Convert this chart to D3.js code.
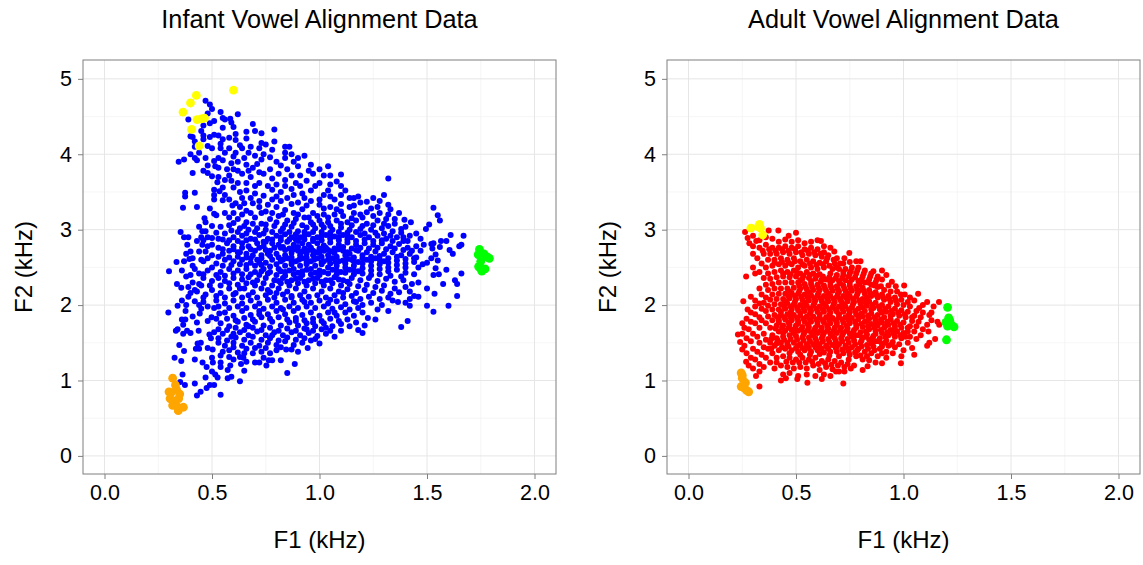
<!DOCTYPE html>
<html><head><meta charset="utf-8">
<script src="https://cdnjs.cloudflare.com/ajax/libs/d3/7.8.5/d3.min.js"></script>
<style>html,body{margin:0;padding:0;background:#fff}svg{display:block}text{font-family:"Liberation Sans",Arial,sans-serif}</style>
</head><body><svg id="c" width="1143" height="565"></svg>
<script>
const tickX=[0,0.5,1,1.5,2], tickY=[0,1,2,3,4,5];
const minorX=[0.25,0.75,1.25,1.75], minorY=[0.5,1.5,2.5,3.5,4.5];
const infantYellow=[[.60,4.85],[.427,4.78],[.40,4.68],[.365,4.56],[.43,4.46],[.45,4.47],[.465,4.48],[.405,4.33],[.44,4.11]];
const infantOrange=[[.317,1.03],[.33,.94],[.335,.88],[.30,.85],[.35,.82],[.305,.76],[.345,.76],[.325,.73],[.317,.67],[.34,.65],[.367,.645],[.343,.60],[.31,.84]];
const infantGreen=[[1.744,2.74],[1.738,2.67],[1.765,2.68],[1.78,2.64],[1.79,2.62],[1.75,2.58],[1.748,2.49],[1.755,2.45],[1.77,2.48],[1.74,2.51]];
const infantVowels=[
[.47,4.71],[.49,4.66],[.50,4.60],[.48,4.54],[.54,4.56],[.62,4.53],[.39,4.46],[.55,4.48],[.56,4.46],[.585,4.47],[.59,4.42],[.51,4.44],[.49,4.41],[.46,4.38],[.69,4.40],[.55,4.35],[.60,4.36],[.61,4.27],[.66,4.30],[.70,4.31],[.73,4.28],[.79,4.33],[.45,4.31],[.46,4.25],[.49,4.23],[.51,4.26],[.53,4.25],[.46,4.20],[.40,4.24],[.41,4.23],[.58,4.22],[.61,4.19],[.66,4.21],[.42,4.17],[.54,4.14],[.54,4.08],[.58,4.08],[.48,4.11],[.50,4.08],[.42,4.10],[.73,4.15],[.75,4.13],[.72,4.08],[.79,4.17],[.78,4.06],[.84,4.10],[.86,4.10],[.64,4.08],[.61,4.02],[.60,3.97],[.67,4.02],[.74,4.00],[.73,3.93],[.84,4.02],[.84,3.95],[.40,4.00],[.42,3.95],[.43,3.92],[.37,3.93],[.345,3.90],[.41,3.75],[.44,4.02],[.51,3.91],[.48,3.85],[.46,3.78],[.53,3.95],[.55,3.92],[.515,3.84],[.53,3.82],[.48,3.75],[.50,3.71],[.525,3.63],
[.59,3.88],[.62,3.9],[.66,3.86],[.69,3.82],[.71,3.87],[.82,3.85],[.85,3.8],[.88,3.9],[.9,3.84],[.93,3.98],[.96,3.86],[1.0,3.8],[1.04,3.84],[1.02,3.72],[1.1,3.73],[.97,3.74],[.91,3.72],[.58,3.72],[.6,3.8],[.64,3.74],[.68,3.7],[.74,3.74],[.78,3.68],[.84,3.66],[.89,3.62],[.56,3.66],[.62,3.62],[.72,3.62],[.76,3.58],[.8,3.6],[.94,3.65],[1.0,3.62],[1.05,3.6],[1.08,3.64],[1.1,3.46],[1.14,3.42],[1.16,3.42],[1.12,3.52],[.6,3.56],[.66,3.52],[.7,3.48],[.64,3.42],[.74,3.45],[.82,3.5],[.87,3.54],[.92,3.48],[.96,3.52],[1.02,3.46],[1.07,3.4],[.78,3.4],[.85,3.42],[.9,3.36],[.96,3.38],[1.0,3.33],[1.05,3.3],[1.1,3.34],[1.14,3.3],[1.19,3.36],
[.375,3.49],[.375,3.44],[.42,3.49],[.365,3.29],[.43,3.30],[.49,3.28],[.51,3.53],[.51,3.46],[.51,3.40],[.535,3.51],[.56,3.46],[.55,3.39],[.595,3.32],[.465,3.15],[.51,3.21],[.52,3.19],[.56,3.22],[.354,2.97],[.37,2.90],[.39,2.90],[.44,3.04],[.455,2.98],[.45,2.90],[.52,2.96],[.54,3.04],[.59,2.99],[.385,2.80],[.40,2.71],[.455,2.80],[.335,2.57],[.37,2.58],[.395,2.61],[.44,2.71],[.47,2.71],[.50,2.89],[.55,2.87],
[.6,3.22],[.63,3.3],[.66,3.25],[.69,3.35],[.72,3.3],[.75,3.24],[.8,3.3],[.84,3.26],[.88,3.22],[.92,3.27],[.97,3.22],[1.02,3.2],[1.07,3.2],[1.11,3.18],[1.16,3.22],[1.2,3.16],[1.25,3.42],[1.28,3.38],[1.22,3.37],[1.3,3.46],[1.32,3.33],[1.33,3.27],[1.24,3.28],[1.28,3.22],[1.37,3.22],[1.395,3.13],[1.425,3.10],[1.32,3.68],[1.53,3.29],[1.55,3.19],[1.56,3.12],[1.51,3.07],[1.495,3.01],
[.62,3.14],[.66,3.1],[.7,3.16],[.73,3.08],[.77,3.14],[.81,3.18],[.85,3.12],[.89,3.14],[.93,3.16],[.96,3.1],[1.0,3.12],[1.04,3.1],[1.08,3.12],[1.13,3.1],[1.17,3.12],[1.22,3.08],[1.27,3.12],[1.31,3.14],[1.35,3.08],[1.4,3.04],[1.45,2.95],[.58,3.06],[.63,3.02],[.67,3.0],[.71,3.02],[.75,3.0],[.79,3.05],[.83,3.02],[.87,3.04],[.9,2.98],[.94,3.03],[.98,3.02],[1.02,3.03],[1.06,3.0],[1.1,3.03],[1.14,3.0],[1.19,3.01],[1.24,3.0],[1.29,3.02],[1.34,2.98],[1.38,2.96],[1.42,2.92],
[.48,2.9],[.57,2.82],[.6,2.9],[.64,2.92],[.68,2.88],[.72,2.93],[.76,2.88],[.8,2.92],[.84,2.94],[.87,2.9],[.91,2.9],[.95,2.94],[.99,2.9],[1.03,2.93],[1.07,2.91],[1.11,2.93],[1.15,2.9],[1.19,2.93],[1.23,2.9],[1.27,2.92],[1.31,2.88],[1.36,2.9],[1.41,2.85],[1.47,2.88],[1.485,2.80],[1.61,2.93],[1.67,2.92],[1.59,2.85],[1.565,2.85],[1.53,2.82],[1.52,2.81],[1.66,2.80],[1.65,2.78],[1.56,2.77],[1.525,2.75],[1.605,2.73],[1.62,2.68],[1.54,2.67],[1.52,2.62],[1.55,2.59],[1.50,2.56],[1.48,2.54],
[.5,2.8],[.53,2.76],[.6,2.78],[.64,2.82],[.67,2.78],[.71,2.82],[.74,2.78],[.78,2.82],[.81,2.8],[.85,2.84],[.88,2.8],[.92,2.82],[.95,2.8],[.99,2.82],[1.02,2.79],[1.05,2.83],[1.09,2.8],[1.13,2.83],[1.17,2.8],[1.21,2.82],[1.25,2.8],[1.29,2.82],[1.33,2.78],[1.37,2.81],[1.41,2.76],[1.45,2.78],[1.47,2.72],
[.5,2.66],[.55,2.68],[.58,2.72],[.62,2.7],[.66,2.68],[.7,2.72],[.73,2.66],[.77,2.72],[.8,2.68],[.84,2.73],[.87,2.69],[.9,2.72],[.94,2.68],[.97,2.72],[1.0,2.69],[1.04,2.73],[1.07,2.69],[1.11,2.72],[1.14,2.68],[1.18,2.72],[1.22,2.7],[1.26,2.71],[1.3,2.68],[1.34,2.7],[1.38,2.66],[1.42,2.68],[1.45,2.63],
[.46,2.58],[.52,2.55],[.56,2.6],[.6,2.58],[.64,2.6],[.68,2.56],[.71,2.6],[.75,2.56],[.78,2.6],[.82,2.58],[.85,2.62],[.89,2.58],[.92,2.62],[.96,2.58],[.99,2.62],[1.02,2.58],[1.06,2.62],[1.09,2.58],[1.13,2.61],[1.16,2.58],[1.2,2.62],[1.24,2.58],[1.28,2.6],[1.32,2.56],[1.36,2.59],[1.4,2.55],[1.44,2.57],[1.46,2.5],
[.3,2.45],[.36,2.46],[.38,2.38],[.42,2.48],[.44,2.42],[.48,2.46],[.54,2.44],[.58,2.48],[.62,2.46],[.66,2.48],[.7,2.44],[.74,2.48],[.77,2.44],[.81,2.48],[.84,2.44],[.88,2.48],[.92,2.45],[.96,2.48],[1.0,2.46],[1.04,2.5],[1.08,2.46],[1.12,2.5],[1.16,2.46],[1.2,2.49],[1.24,2.46],[1.28,2.48],[1.32,2.45],[1.36,2.47],[1.4,2.43],[1.44,2.41],[1.54,2.49],[1.59,2.47],[1.53,2.40],[1.555,2.41],[1.66,2.42],[1.63,2.33],[1.64,2.28],[1.575,2.28],[1.50,2.22],[1.535,2.15],[1.64,2.12],[1.50,1.99],[1.60,1.99],[1.53,1.91],[1.46,2.11],[1.44,2.12],[1.42,2.08],[1.42,1.99],[1.40,2.03],[1.365,2.04],[1.34,2.06],
[.337,2.28],[.357,2.23],[.39,2.11],[.34,1.99],[.36,2.06],[.41,2.3],[.44,2.28],[.46,2.36],[.5,2.32],[.53,2.36],[.56,2.32],[.6,2.36],[.64,2.34],[.67,2.37],[.71,2.33],[.75,2.36],[.79,2.33],[.83,2.36],[.87,2.33],[.91,2.36],[.95,2.33],[.99,2.36],[1.03,2.33],[1.07,2.37],[1.11,2.33],[1.15,2.36],[1.19,2.33],[1.23,2.36],[1.27,2.32],[1.31,2.35],[1.35,2.31],[1.39,2.33],[1.43,2.28],[1.46,2.3],
[.43,2.18],[.47,2.14],[.5,2.2],[.54,2.16],[.58,2.22],[.61,2.16],[.65,2.22],[.69,2.17],[.73,2.22],[.77,2.17],[.81,2.22],[.85,2.18],[.89,2.22],[.93,2.18],[.97,2.22],[1.01,2.18],[1.05,2.22],[1.09,2.18],[1.13,2.21],[1.17,2.16],[1.21,2.2],[1.25,2.16],[1.29,2.19],[1.33,2.15],[1.37,2.17],[1.42,2.18],
[.297,1.90],[.377,1.92],[.36,1.81],[.376,1.81],[.45,1.95],[.443,1.89],[.51,1.96],[.48,1.98],[.534,1.89],[.43,1.77],[.48,1.79],[.498,1.84],[.42,2.05],[.46,2.04],[.52,2.06],[.56,2.02],[.6,2.06],[.64,2.02],[.68,2.06],[.72,2.02],[.76,2.07],[.8,2.03],[.84,2.07],[.88,2.03],[.92,2.07],[.96,2.03],[1.0,2.06],[1.04,2.02],[1.08,2.05],[1.12,2.01],[1.16,2.05],[1.2,2.0],[1.24,2.03],[1.29,2.0],[1.32,1.92],[1.27,1.94],[1.26,1.81],[1.225,1.83],[1.20,1.63],[1.18,1.67],[1.21,1.73],[1.41,1.79],[1.38,1.71],
[.56,1.9],[.6,1.86],[.64,1.92],[.68,1.87],[.72,1.92],[.76,1.88],[.8,1.92],[.84,1.88],[.88,1.92],[.92,1.87],[.96,1.9],[1.0,1.86],[1.04,1.9],[1.08,1.86],[1.12,1.9],[1.16,1.86],[1.2,1.9],[.54,1.76],[.58,1.72],[.62,1.78],[.66,1.74],[.7,1.78],[.74,1.73],[.78,1.78],[.82,1.73],[.86,1.77],[.9,1.73],[.94,1.76],[.98,1.72],[1.02,1.76],[1.06,1.72],[1.1,1.75],[1.14,1.72],[1.17,1.77],
[.366,1.74],[.332,1.66],[.34,1.68],[.366,1.62],[.384,1.66],[.40,1.63],[.348,1.47],[.37,1.39],[.326,1.30],[.357,1.26],[.363,1.08],[.374,.94],[.352,.98],[.42,1.28],[.456,1.24],[.475,1.18],[.47,1.04],[.42,.96],[.43,.80],[.447,.85],[.475,.90],[.49,.94],[.51,.94],[.54,.81],[.50,1.12],[.515,1.08],[.526,1.04],[.573,1.03],[.59,1.05],[.63,.99],[.85,1.10],[.885,1.22],[.82,1.27],[.753,1.20],[.65,1.13],[.635,1.22],[.585,1.20],[.54,1.18],[.573,1.14],[.50,1.30],[.504,1.24],[.54,1.33],[.54,1.24],[.58,1.31],[.63,1.31],[.646,1.30],[.69,1.36],[.70,1.24],[.72,1.24],[.764,1.27],[.78,1.27],[.845,1.41],[.945,1.43],[.425,1.42],[.44,1.42],[.433,1.49],[.448,1.50],[.48,1.43],[.503,1.41],[.495,1.56],[.488,1.61],[.438,1.66],[.51,1.64],
[.55,1.62],[.59,1.58],[.63,1.64],[.67,1.6],[.71,1.65],[.75,1.6],[.79,1.64],[.83,1.6],[.87,1.64],[.91,1.6],[.95,1.63],[.99,1.59],[1.03,1.62],[1.07,1.58],[.53,1.5],[.56,1.46],[.6,1.5],[.64,1.46],[.68,1.5],[.72,1.46],[.76,1.5],[.8,1.47],[.84,1.52],[.88,1.47],[.92,1.5],[.96,1.53],[1.0,1.49],[.58,1.4],[.62,1.37],[.66,1.42],[.73,1.38],[.77,1.36],[.8,1.4],[.9,1.38]
];
const infantVowelsDense=[
[.55,4.2],[.63,4.12],[.68,4.1],[.7,3.98],[.77,3.96],[.8,3.9],[.87,4.0],[.9,3.95],[.47,3.95],[.56,4.02],[.65,3.95],[.57,3.8],[.62,3.78],[.67,3.78],[.72,3.76],[.77,3.8],[.81,3.74],[.87,3.72],[.95,3.78],[1.05,3.72],[.53,3.7],[.59,3.65],[.66,3.62],[.7,3.58],[.78,3.53],[.84,3.58],[.91,3.58],[.98,3.58],[1.04,3.52],[1.1,3.58],[.55,3.56],[.63,3.5],[.68,3.42],[.72,3.38],[.8,3.44],[.88,3.46],[.93,3.42],[1.0,3.4],[1.05,3.44],[1.18,3.44],[.58,3.4],[.61,3.35],[.65,3.35],[.76,3.33],[.82,3.38],[.87,3.34],[.94,3.32],[1.02,3.28],[1.08,3.27],[1.16,3.32],[1.22,3.23],[1.27,3.3],[1.32,3.2],[.58,3.16],[.64,3.2],[.68,3.22],[.73,3.22],[.78,3.22],[.83,3.2],[.9,3.2],[.95,3.16],[.99,3.18],[1.04,3.16],[1.1,3.24],[1.15,3.15],[1.19,3.2],[1.25,3.18],[1.3,3.08],[1.35,3.14],
[.6,3.09],[.65,3.05],[.69,3.08],[.75,3.07],[.8,3.1],[.84,3.07],[.88,3.09],[.92,3.06],[.97,3.07],[1.01,3.07],[1.05,3.05],[1.1,3.08],[1.15,3.06],[1.2,3.05],[1.25,3.06],[1.32,3.05],[1.38,3.01],
[.56,2.95],[.62,2.97],[.66,2.95],[.7,2.97],[.74,2.95],[.78,2.97],[.82,2.98],[.86,2.97],[.89,2.94],[.93,2.97],[.97,2.97],[1.01,2.97],[1.05,2.96],[1.09,2.97],[1.13,2.96],[1.17,2.97],[1.21,2.95],[1.26,2.96],[1.3,2.95],[1.33,2.92],[1.39,2.9],
[.46,2.86],[.53,2.88],[.58,2.86],[.62,2.85],[.66,2.86],[.7,2.87],[.74,2.84],[.78,2.87],[.82,2.86],[.86,2.87],[.9,2.85],[.93,2.87],[.97,2.85],[1.01,2.86],[1.05,2.88],[1.09,2.86],[1.13,2.87],[1.17,2.85],[1.21,2.87],[1.25,2.85],[1.29,2.86],[1.34,2.85],[1.39,2.85],
[.48,2.78],[.55,2.74],[.6,2.74],[.64,2.76],[.68,2.74],[.72,2.76],[.75,2.73],[.79,2.76],[.83,2.77],[.86,2.75],[.9,2.77],[.93,2.75],[.96,2.76],[1.0,2.75],[1.03,2.76],[1.07,2.75],[1.11,2.77],[1.15,2.75],[1.19,2.76],[1.23,2.75],[1.27,2.76],[1.31,2.74],[1.35,2.75],[1.39,2.73],[1.43,2.72],
[.48,2.62],[.53,2.64],[.58,2.63],[.62,2.64],[.66,2.63],[.69,2.66],[.73,2.62],[.77,2.65],[.81,2.63],[.84,2.66],[.87,2.63],[.91,2.66],[.94,2.63],[.97,2.66],[1.01,2.64],[1.04,2.66],[1.08,2.64],[1.12,2.66],[1.16,2.63],[1.2,2.66],[1.24,2.64],[1.28,2.65],[1.32,2.62],[1.36,2.64],[1.4,2.61],[1.44,2.62],
[.5,2.5],[.55,2.52],[.59,2.53],[.63,2.54],[.66,2.53],[.7,2.52],[.73,2.53],[.77,2.51],[.8,2.54],[.84,2.52],[.87,2.54],[.91,2.52],[.94,2.54],[.98,2.52],[1.01,2.54],[1.05,2.55],[1.08,2.52],[1.12,2.55],[1.16,2.52],[1.2,2.55],[1.24,2.52],[1.28,2.54],[1.32,2.5],[1.36,2.53],[1.4,2.5],
[.4,2.4],[.46,2.41],[.52,2.4],[.56,2.39],[.6,2.42],[.64,2.41],[.68,2.41],[.72,2.4],[.76,2.42],[.8,2.4],[.84,2.39],[.88,2.41],[.92,2.4],[.96,2.41],[1.0,2.4],[1.04,2.42],[1.08,2.41],[1.12,2.43],[1.16,2.41],[1.2,2.42],[1.24,2.4],[1.28,2.41],[1.33,2.39],[1.38,2.38],
[.39,2.24],[.45,2.26],[.49,2.26],[.54,2.26],[.58,2.29],[.62,2.27],[.66,2.29],[.7,2.26],[.74,2.29],[.78,2.26],[.82,2.29],[.86,2.26],[.9,2.29],[.94,2.26],[.98,2.29],[1.02,2.26],[1.06,2.29],[1.1,2.26],[1.14,2.28],[1.18,2.25],[1.22,2.27],[1.26,2.24],[1.3,2.26],[1.35,2.22],[1.4,2.24],
[.4,2.16],[.46,2.1],[.52,2.12],[.56,2.1],[.6,2.14],[.64,2.1],[.67,2.13],[.71,2.1],[.75,2.13],[.79,2.1],[.83,2.14],[.87,2.1],[.91,2.13],[.95,2.11],[.99,2.13],[1.03,2.1],[1.07,2.13],[1.11,2.1],[1.15,2.12],[1.19,2.08],[1.23,2.11],[1.28,2.08],[1.32,2.1],
[.38,2.0],[.44,2.0],[.53,1.98],[.58,1.96],[.62,1.98],[.66,1.96],[.7,1.98],[.74,1.95],[.78,1.98],[.82,1.96],[.86,1.98],[.9,1.96],[.94,1.98],[.98,1.96],[1.02,1.98],[1.06,1.95],[1.1,1.97],[1.14,1.94],[1.18,1.96],
[.41,1.85],[.52,1.82],[.57,1.82],[.61,1.8],[.65,1.83],[.69,1.81],[.73,1.84],[.77,1.82],[.81,1.84],[.85,1.81],[.89,1.83],[.93,1.8],[.97,1.82],[1.01,1.79],[1.05,1.82],[1.09,1.79],[1.13,1.81],
[.53,1.68],[.57,1.67],[.61,1.7],[.65,1.67],[.69,1.7],[.73,1.67],[.77,1.7],[.81,1.66],[.85,1.69],[.89,1.66],[.93,1.69],[.97,1.66],[1.01,1.68],[1.05,1.66],[1.1,1.66],
[.53,1.56],[.57,1.53],[.61,1.57],[.65,1.54],[.69,1.58],[.73,1.54],[.77,1.56],[.81,1.53],[.85,1.57],[.89,1.54],[.93,1.56],[.98,1.55],[.55,1.38],[.6,1.44],[.65,1.36],[.7,1.43],[.75,1.43],[.82,1.44],[.87,1.41],[.6,1.28],[.66,1.25],[.74,1.3],
[.41,2.52],[.45,2.6],[.41,2.62],[.38,2.68],[.43,2.85],[.47,2.98],[.5,3.05],[.47,3.1],[.42,2.2],
[.82,2.9],[.89,2.87],[.93,2.92],[.97,2.88],[1.01,2.92],[1.05,2.91],[1.09,2.9],[1.13,2.92],[.82,2.76],[.88,2.74],[.92,2.71],[.95,2.73],[.985,2.7],[1.02,2.72],[1.055,2.71],[1.09,2.74],[1.13,2.7],[1.17,2.73],[.83,2.6],[.87,2.58],[.905,2.6],[.94,2.57],[.975,2.6],[1.01,2.57],[1.04,2.6],[1.075,2.57],[1.11,2.59],[1.15,2.6],[1.18,2.57],[1.22,2.6],[1.26,2.62],[1.3,2.58],[.82,2.45],[.86,2.46],[.9,2.43],[.94,2.47],[.98,2.43],[1.02,2.44],[1.06,2.47],[1.1,2.44],[1.14,2.47],[1.18,2.45],[.81,2.32],[.85,2.31],[.89,2.35],[.93,2.31],[.97,2.35],[1.01,2.31],[1.05,2.33],[1.09,2.34],[1.13,2.31],[.63,2.7],[.68,2.62],[.72,2.56],[.76,2.68],[.75,2.84],[.73,2.45],[.69,2.3],[.63,2.22],[.76,2.2],[.8,2.16],[.87,2.12],[.93,2.04],[1.05,2.07],[1.11,2.16],[1.17,2.04],[1.07,1.9],[.83,1.94],[.72,1.88],[.89,1.79],[.97,1.77],[.67,1.72],[.78,1.6],[.6,1.62],[.94,1.68],[1.03,1.7]
];
const adultYellow=[[.29,3.02],[.33,3.07],[.335,3.02],[.345,2.93],[.325,3.04]];
const adultOrange=[[.245,1.10],[.25,1.03],[.265,.97],[.245,.92],[.28,.85],[.26,.90],[.25,1.07],[.27,.87]];
const adultGreen=[[1.205,1.97],[1.21,1.83],[1.215,1.80],[1.205,1.72],[1.235,1.71],[1.20,1.54],[1.22,1.75],[1.197,1.77]];
const adultVowels=[
[.263,2.97],[.418,2.99],[.373,2.99],[.466,2.92],[.50,2.96],[.275,2.89],[.283,2.82],[.60,2.86],[.616,2.85],[.678,2.71],[.748,2.69],[.725,2.62],[.78,2.58],[.80,2.58],[.86,2.45],[.90,2.46],[.92,2.40],[.946,2.31],[.964,2.25],[1.003,2.26],[.988,2.14],[1.006,2.14],[1.068,2.15],[1.11,2.04],[1.165,2.04],[1.073,1.96],[1.12,1.87],[1.158,1.78],[1.166,1.74],[1.11,1.74],[1.116,1.65],[1.147,1.55],[1.12,1.50],[1.11,1.46],[1.05,1.34],[.99,1.32],[.988,1.23],[.90,1.23],[.833,1.19],[.81,1.14],[.72,.96],[.725,1.12],[.686,1.12],[.62,1.02],[.553,.97],[.506,1.02],[.43,1.0],[.453,1.03],[.33,.92],[.33,1.12],[.314,1.06],[.268,1.25],[.255,2.05],[.268,2.38],[.29,2.11],[.23,1.61],[.24,1.51],[.25,1.41],[.25,1.76],[.275,1.94],
[.3,2.92],[.33,2.86],[.36,2.9],[.39,2.88],[.42,2.84],[.45,2.87],[.48,2.84],[.51,2.86],[.54,2.82],[.57,2.84],[.63,2.78],[.66,2.76],[.3,2.78],[.33,2.76],[.36,2.8],[.39,2.76],[.42,2.76],[.45,2.78],[.48,2.76],[.51,2.78],[.54,2.74],[.57,2.76],[.6,2.74],[.63,2.7],[.69,2.62],[.72,2.55],[.75,2.57],[.3,2.68],[.32,2.62],[.35,2.68],[.38,2.68],[.41,2.68],[.44,2.7],[.47,2.68],[.5,2.7],[.53,2.66],[.56,2.68],[.59,2.66],[.62,2.64],[.65,2.66],[.68,2.55],
[.3,2.5],[.31,2.42],[.34,2.55],[.37,2.6],[.4,2.6],[.43,2.62],[.46,2.6],[.49,2.62],[.52,2.58],[.55,2.6],[.58,2.58],[.61,2.56],[.64,2.58],[.67,2.48],[.7,2.48],[.73,2.48],[.76,2.5],[.79,2.5],[.82,2.46],[.85,2.42],[.88,2.38],[.36,2.5],[.39,2.52],[.42,2.54],[.45,2.52],[.48,2.54],[.51,2.5],[.54,2.52],[.57,2.5],[.6,2.48],[.63,2.5],[.66,2.42],[.69,2.4],[.72,2.4],[.75,2.42],[.78,2.42],[.81,2.38],[.84,2.34],[.87,2.3],[.9,2.34],[.93,2.26],
[.33,2.44],[.37,2.42],[.4,2.44],[.43,2.46],[.46,2.44],[.49,2.46],[.52,2.42],[.55,2.44],[.58,2.42],[.61,2.41],[.64,2.34],[.67,2.33],[.7,2.32],[.73,2.33],[.76,2.34],[.79,2.32],[.82,2.3],[.85,2.27],[.88,2.24],[.91,2.2],[.94,2.18],[.97,2.18],[1.03,2.1],[.35,2.36],[.38,2.35],[.41,2.37],[.44,2.38],[.47,2.37],[.5,2.38],[.53,2.35],[.56,2.36],[.59,2.35],[.62,2.34],
[.33,2.22],[.36,2.27],[.39,2.28],[.42,2.3],[.45,2.3],[.48,2.3],[.51,2.3],[.54,2.28],[.57,2.28],[.6,2.27],[.63,2.26],[.66,2.26],[.69,2.25],[.72,2.26],[.75,2.26],[.78,2.25],[.81,2.23],[.84,2.2],[.87,2.17],[.9,2.14],[.93,2.12],[.96,2.1],[.99,2.07],[1.02,2.04],[1.05,2.06],[1.09,2.0],[1.14,1.98],
[.31,2.06],[.34,2.14],[.37,2.2],[.4,2.22],[.43,2.22],[.46,2.22],[.49,2.23],[.52,2.22],[.55,2.21],[.58,2.2],[.61,2.2],[.64,2.19],[.67,2.19],[.7,2.18],[.73,2.19],[.76,2.19],[.79,2.18],[.82,2.15],[.85,2.12],[.88,2.1],[.91,2.07],[.94,2.04],[.97,2.01],[1.0,2.0],[1.03,1.98],[1.06,1.92],[1.09,1.9],[1.13,1.9],
[.33,2.02],[.36,2.1],[.39,2.14],[.42,2.15],[.45,2.15],[.48,2.16],[.51,2.15],[.54,2.14],[.57,2.13],[.6,2.13],[.63,2.12],[.66,2.12],[.69,2.11],[.72,2.12],[.75,2.12],[.78,2.11],[.81,2.08],[.84,2.05],[.87,2.03],[.9,2.0],[.93,1.98],[.96,1.95],[.99,1.93],[1.02,1.91],[1.05,1.86],[1.08,1.84],
[.29,1.9],[.31,1.98],[.35,2.03],[.38,2.07],[.41,2.08],[.44,2.08],[.47,2.09],[.5,2.08],[.53,2.07],[.56,2.06],[.59,2.06],[.62,2.05],[.65,2.05],[.68,2.04],[.71,2.05],[.74,2.05],[.77,2.04],[.8,2.02],[.83,1.99],[.86,1.96],[.89,1.94],[.92,1.91],[.95,1.88],[.98,1.86],[1.01,1.84],[1.04,1.79],[1.07,1.78],[1.13,1.8],
[.27,1.82],[.31,1.88],[.34,1.95],[.37,1.99],[.4,2.01],[.43,2.01],[.46,2.02],[.49,2.01],[.52,2.0],[.55,1.99],[.58,1.99],[.61,1.98],[.64,1.98],[.67,1.97],[.7,1.98],[.73,1.98],[.76,1.97],[.79,1.95],[.82,1.92],[.85,1.89],[.88,1.87],[.91,1.84],[.94,1.81],[.97,1.79],[1.0,1.77],[1.03,1.72],[1.06,1.72],[1.09,1.68],
[.26,1.7],[.29,1.78],[.33,1.84],[.36,1.92],[.39,1.94],[.42,1.94],[.45,1.95],[.48,1.94],[.51,1.93],[.54,1.92],[.57,1.92],[.6,1.91],[.63,1.91],[.66,1.9],[.69,1.91],[.72,1.91],[.75,1.9],[.78,1.88],[.81,1.85],[.84,1.82],[.87,1.8],[.9,1.77],[.93,1.74],[.96,1.72],[.99,1.7],[1.02,1.65],[1.05,1.65],[1.08,1.6],
[.25,1.62],[.28,1.68],[.31,1.76],[.34,1.8],[.37,1.85],[.4,1.87],[.43,1.87],[.46,1.88],[.49,1.87],[.52,1.86],[.55,1.85],[.58,1.85],[.61,1.84],[.64,1.84],[.67,1.83],[.7,1.84],[.73,1.84],[.76,1.83],[.79,1.81],[.82,1.78],[.85,1.75],[.88,1.73],[.91,1.7],[.94,1.67],[.97,1.65],[1.0,1.63],[1.03,1.58],[1.06,1.55],
[.27,1.56],[.3,1.62],[.33,1.7],[.36,1.76],[.39,1.8],[.42,1.8],[.45,1.81],[.48,1.8],[.51,1.79],[.54,1.78],[.57,1.78],[.6,1.77],[.63,1.77],[.66,1.76],[.69,1.77],[.72,1.77],[.75,1.76],[.78,1.74],[.81,1.71],[.84,1.68],[.87,1.66],[.9,1.63],[.93,1.6],[.96,1.58],[.99,1.56],[1.02,1.5],
[.26,1.46],[.29,1.52],[.32,1.58],[.35,1.62],[.38,1.7],[.41,1.73],[.44,1.73],[.47,1.74],[.5,1.73],[.53,1.71],[.56,1.71],[.59,1.7],[.62,1.7],[.65,1.69],[.68,1.7],[.71,1.7],[.74,1.69],[.77,1.67],[.8,1.64],[.83,1.61],[.86,1.59],[.89,1.56],[.92,1.53],[.95,1.51],[.98,1.48],[1.04,1.43],[.27,1.36],[.3,1.42],[.33,1.5],[.36,1.54],[.39,1.6],[.42,1.65],[.45,1.66],[.48,1.67],[.51,1.66],[.54,1.64],[.57,1.64],[.6,1.63],[.63,1.63],[.66,1.62],[.69,1.63],[.72,1.63],[.75,1.62],[.78,1.6],[.81,1.57],[.84,1.54],[.87,1.52],[.9,1.49],[.93,1.46],[.96,1.44],[1.0,1.4],
[.29,1.3],[.32,1.38],[.35,1.44],[.38,1.5],[.41,1.56],[.44,1.58],[.47,1.6],[.5,1.59],[.53,1.57],[.56,1.57],[.59,1.56],[.62,1.56],[.65,1.55],[.68,1.56],[.71,1.56],[.74,1.55],[.77,1.53],[.8,1.5],[.83,1.47],[.86,1.45],[.89,1.42],[.92,1.38],[.95,1.36],[.28,1.2],[.31,1.28],[.34,1.34],[.37,1.42],[.4,1.46],[.43,1.5],[.46,1.5],[.49,1.5],[.52,1.48],[.55,1.48],[.58,1.48],[.61,1.48],[.64,1.46],[.67,1.47],[.7,1.48],[.73,1.46],[.76,1.44],[.79,1.42],[.82,1.38],[.85,1.36],[.88,1.32],[.92,1.3],
[.3,1.16],[.33,1.22],[.36,1.3],[.39,1.36],[.42,1.4],[.45,1.42],[.48,1.4],[.51,1.38],[.54,1.4],[.57,1.38],[.6,1.4],[.63,1.37],[.66,1.38],[.69,1.38],[.72,1.36],[.75,1.34],[.78,1.32],[.81,1.28],[.84,1.27],[.87,1.24],[.35,1.18],[.38,1.24],[.41,1.3],[.44,1.32],[.47,1.3],[.5,1.28],[.53,1.3],[.56,1.28],[.59,1.3],[.62,1.26],[.65,1.28],[.68,1.26],[.71,1.24],[.74,1.22],[.77,1.2],[.4,1.16],[.43,1.2],[.46,1.18],[.49,1.16],[.52,1.18],[.55,1.16],[.58,1.2],[.61,1.14],[.64,1.18],[.67,1.15],[.7,1.12],[.44,1.08],[.47,1.1],[.51,1.06],[.55,1.08],[.59,1.06],[.63,1.08],[.66,1.06]
];
const adultVowelsDense=[
[.315,2.85],[.345,2.72],[.375,2.74],[.405,2.72],[.435,2.74],[.465,2.72],[.495,2.74],[.525,2.7],[.555,2.72],[.585,2.7],[.615,2.68],[.645,2.62],[.675,2.6],[.705,2.55],
[.4,2.56],[.435,2.57],[.465,2.56],[.495,2.58],[.53,2.54],[.565,2.55],[.595,2.53],[.625,2.54],[.655,2.52],[.69,2.5],[.72,2.44],[.755,2.45],[.785,2.46],[.815,2.42],[.845,2.38],[.875,2.34],
[.44,2.42],[.475,2.41],[.505,2.43],[.535,2.39],[.565,2.4],[.595,2.39],[.625,2.38],[.655,2.37],[.685,2.36],[.715,2.36],[.745,2.38],[.775,2.37],[.805,2.34],[.835,2.3],[.865,2.26],[.895,2.25],
[.515,2.26],[.545,2.24],[.575,2.24],[.605,2.23],[.635,2.22],[.665,2.23],[.695,2.21],[.725,2.22],[.755,2.22],[.785,2.21],[.815,2.19],[.845,2.16],[.875,2.13],[.905,2.1],[.935,2.08],[.965,2.06],
[.465,2.12],[.495,2.12],[.525,2.11],[.555,2.1],[.585,2.09],[.615,2.09],[.645,2.08],[.675,2.08],[.705,2.08],[.735,2.09],[.765,2.08],[.795,2.06],[.825,2.03],[.855,2.0],[.885,1.98],[.915,1.95],[.945,1.92],[.975,1.9],[1.005,1.88],[1.04,1.84],
[.445,1.98],[.475,1.98],[.505,1.97],[.535,1.96],[.565,1.95],[.595,1.95],[.625,1.94],[.655,1.94],[.685,1.94],[.715,1.95],[.745,1.94],[.775,1.92],[.805,1.89],[.835,1.86],[.865,1.84],[.895,1.81],[.925,1.78],[.955,1.76],[.985,1.74],[1.02,1.7],
[.415,1.84],[.445,1.84],[.475,1.84],[.505,1.83],[.535,1.82],[.565,1.81],[.595,1.81],[.625,1.8],[.655,1.8],[.685,1.8],[.715,1.81],[.745,1.8],[.775,1.78],[.805,1.75],[.835,1.72],[.865,1.7],[.895,1.67],[.925,1.64],[.955,1.62],[.985,1.6],[1.01,1.58],
[.405,1.69],[.435,1.7],[.465,1.7],[.495,1.69],[.525,1.68],[.555,1.67],[.585,1.67],[.615,1.66],[.645,1.66],[.675,1.66],[.705,1.67],[.735,1.66],[.765,1.64],[.795,1.6],[.825,1.58],[.855,1.56],[.885,1.52],[.915,1.5],[.945,1.48],
[.385,1.55],[.415,1.53],[.445,1.54],[.475,1.55],[.505,1.54],[.535,1.53],[.565,1.52],[.595,1.52],[.625,1.52],[.655,1.51],[.685,1.52],[.715,1.52],[.745,1.5],[.775,1.48],[.805,1.45],[.835,1.42],[.865,1.4],[.9,1.36],
[.385,1.42],[.435,1.44],[.465,1.45],[.5,1.43],[.53,1.43],[.56,1.43],[.59,1.44],[.62,1.42],[.65,1.42],[.685,1.43],[.715,1.41],[.745,1.39],[.775,1.37],[.8,1.33],[.83,1.32],
[.41,1.24],[.455,1.25],[.485,1.24],[.515,1.24],[.545,1.24],[.575,1.25],[.605,1.22],[.635,1.23],[.665,1.21],[.695,1.2],[.725,1.18],[.755,1.16],
[.52,2.33],[.57,2.32],[.615,2.31],[.66,2.3],[.705,2.29],[.75,2.3],[.795,2.28],[.47,2.18],[.515,2.185],[.56,2.17],[.605,2.165],[.65,2.155],[.695,2.15],[.74,2.155],[.785,2.145],[.83,2.1],[.45,2.05],[.495,2.045],[.54,2.03],[.585,2.025],[.63,2.015],[.675,2.01],[.72,2.015],[.765,2.01],[.81,1.97],[.85,1.94],[.9,1.9],[.94,1.86],[.43,1.91],[.475,1.905],[.52,1.895],[.565,1.885],[.61,1.875],[.655,1.87],[.7,1.875],[.745,1.87],[.79,1.84],[.83,1.79],[.875,1.76],[.915,1.72],[.96,1.68],[.42,1.77],[.465,1.77],[.51,1.76],[.555,1.745],[.6,1.735],[.645,1.73],[.69,1.735],[.735,1.73],[.78,1.7],[.825,1.65],[.87,1.62],[.915,1.58],[.44,1.63],[.49,1.63],[.535,1.61],[.58,1.6],[.625,1.595],[.67,1.59],[.715,1.595],[.76,1.58],[.805,1.53],[.85,1.49],[.9,1.45],[.41,1.49],[.46,1.47],[.51,1.46],[.555,1.45],[.6,1.46],[.645,1.44],[.69,1.45],[.735,1.43],[.785,1.4],[.47,1.36],[.52,1.34],[.565,1.34],[.61,1.35],[.655,1.33],[.7,1.32],[.745,1.28]
];
const panels=[
 {left:83,title:"Infant Vowel Alignment Data",main:infantVowels.concat(infantVowelsDense),color:"#0000ff",yellow:infantYellow,orange:infantOrange,green:infantGreen},
 {left:667,title:"Adult Vowel Alignment Data",main:adultVowels.concat(adultVowelsDense),color:"#ff0000",yellow:adultYellow,orange:adultOrange,green:adultGreen}
];
const panelW=473,panelTop=60,panelH=414;
const svg=d3.select("#c");
panels.forEach(p=>{
 const x=d3.scaleLinear().domain([-0.1,2.1]).range([p.left,p.left+panelW]);
 const y=d3.scaleLinear().domain([-0.24,5.25]).range([panelTop+panelH,panelTop]);
 const g=svg.append("g");
 g.append("g").selectAll("line").data(minorX).join("line").attr("x1",d=>x(d)).attr("x2",d=>x(d)).attr("y1",panelTop).attr("y2",panelTop+panelH).attr("stroke","#f2f2f2").attr("stroke-width",.7);
 g.append("g").selectAll("line").data(minorY).join("line").attr("y1",d=>y(d)).attr("y2",d=>y(d)).attr("x1",p.left).attr("x2",p.left+panelW).attr("stroke","#f2f2f2").attr("stroke-width",.7);
 g.append("g").selectAll("line").data(tickX).join("line").attr("x1",d=>x(d)).attr("x2",d=>x(d)).attr("y1",panelTop).attr("y2",panelTop+panelH).attr("stroke","#e6e6e6").attr("stroke-width",1);
 g.append("g").selectAll("line").data(tickY).join("line").attr("y1",d=>y(d)).attr("y2",d=>y(d)).attr("x1",p.left).attr("x2",p.left+panelW).attr("stroke","#e6e6e6").attr("stroke-width",1);
 const dots=(data,col,r)=>g.append("g").selectAll("circle").data(data).join("circle").attr("cx",d=>x(d[0])).attr("cy",d=>y(d[1])).attr("r",r).attr("fill",col);
 dots(p.main,p.color,3);
 dots(p.yellow,"#ffff00",4.4);
 dots(p.orange,"#ffa500",4.4);
 dots(p.green,"#00ff00",4.4);
 g.append("rect").attr("x",p.left).attr("y",panelTop).attr("width",panelW).attr("height",panelH).attr("fill","none").attr("stroke","#7f7f7f").attr("stroke-width",1);
 const ax=g.append("g").attr("transform",`translate(0,${panelTop+panelH})`).call(d3.axisBottom(x).tickValues(tickX).tickFormat(d3.format(".1f")).tickSize(5).tickPadding(6));
 const ay=g.append("g").attr("transform",`translate(${p.left},0)`).call(d3.axisLeft(y).tickValues(tickY).tickFormat(d3.format("d")).tickSize(5).tickPadding(6));
 [ax,ay].forEach(a=>{a.select(".domain").remove();a.selectAll("line").attr("stroke","#7f7f7f");a.selectAll("text").attr("fill","#000").style("font-size","21.5px").style("font-family",'"Liberation Sans",Arial,sans-serif');});
 svg.append("text").attr("x",p.left+panelW/2).attr("y",28).attr("text-anchor","middle").attr("fill","#000").style("font-size","25.3px").text(p.title);
 svg.append("text").attr("x",p.left+panelW/2).attr("y",548).attr("text-anchor","middle").attr("fill","#000").style("font-size","24px").text("F1 (kHz)");
 svg.append("text").attr("transform",`translate(${p.left-51},${panelTop+panelH/2}) rotate(-90)`).attr("text-anchor","middle").attr("fill","#000").style("font-size","24px").text("F2 (kHz)");
});
</script></body></html>
